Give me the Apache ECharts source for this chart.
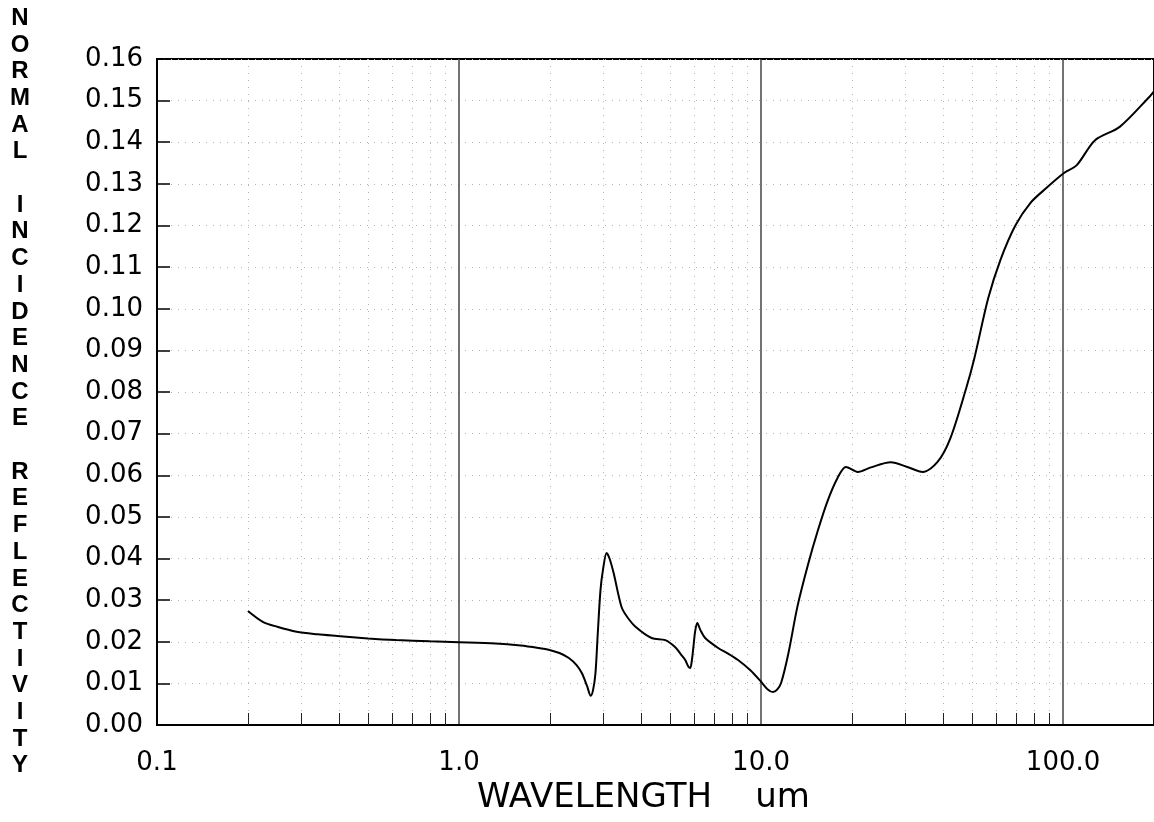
<!DOCTYPE html>
<html>
<head>
<meta charset="utf-8">
<title>Normal incidence reflectivity</title>
<script src="https://cdn.jsdelivr.net/npm/echarts@6/dist/echarts.min.js"></script>
<style>
  html, body { margin: 0; padding: 0; background: #fff; }
  #chart { width: 1154px; height: 822px; }
</style>
</head>
<body>
<div id="chart"></div>
<script>
// wavelength in um
const wavelength = [
  0.2, 0.224, 0.25, 0.29, 0.34, 0.395, 0.5, 0.62, 0.8, 1.0,
  1.32, 1.6, 1.84, 1.98, 2.15, 2.31, 2.45, 2.55, 2.65, 2.73,
  2.78, 2.83, 2.88, 2.94, 3.0, 3.08, 3.15, 3.25, 3.45, 3.6,
  3.84, 4.34, 4.82, 5.2, 5.45, 5.61, 5.75, 5.83, 5.9, 5.97,
  6.05, 6.15, 6.3, 6.53, 7.21, 7.8, 8.39, 9.2, 10.0, 10.5,
  10.96, 11.3, 11.65, 12.3, 13.2, 14.3, 15.4, 16.6, 17.9, 19.1,
  20.9, 23.1, 26.9, 30.5, 34.3, 38.4, 42.4, 47.9, 50.8, 56.5,
  62, 69.5, 77.9, 88, 100.7, 111, 127.6, 154, 193.6, 200
]
const reflectivity = [
  0.0274, 0.0248, 0.0236, 0.0224, 0.0218, 0.0214, 0.0208, 0.0204, 0.0201, 0.0199,
  0.0196, 0.0191, 0.0185, 0.0181, 0.0173, 0.0161, 0.0144, 0.0125, 0.0095, 0.0070,
  0.0085, 0.0125, 0.0220, 0.0324, 0.0375, 0.0413, 0.0400, 0.0365, 0.0284, 0.0260,
  0.0236, 0.0209, 0.0204, 0.0187, 0.0168, 0.0156, 0.0140, 0.0137, 0.0155, 0.0187,
  0.0225, 0.0245, 0.0228, 0.0209, 0.0185, 0.0171, 0.0156, 0.0132, 0.0104, 0.0086,
  0.0079, 0.0085, 0.0101, 0.0170, 0.0285, 0.0385, 0.0466, 0.0538, 0.0593, 0.0620,
  0.0608, 0.0619, 0.0631, 0.0620, 0.0608, 0.0632, 0.0690, 0.0812, 0.0880, 0.1025,
  0.1117, 0.1200, 0.1254, 0.1290, 0.1326, 0.1345, 0.1405, 0.1437, 0.1510, 0.1522
]
const labelTicks = [0.1, 1, 10, 100]
const decadeLines = [1, 10, 100]
const minorTicks = [
  0.2, 0.3, 0.4, 0.5, 0.6, 0.7, 0.8, 0.9,
  2, 3, 4, 5, 6, 7, 8, 9,
  20, 30, 40, 50, 60, 70, 80, 90
]
const yTitle = 'NORMAL INCIDENCE REFLECTIVITY'
const xTitle = 'WAVELENGTH    um'

const numFont = 'DejaVu Sans'
const letterFont = 'Liberation Sans'
const chart = echarts.init(document.getElementById('chart'))

const option = {
  animation: false,
  backgroundColor: '#fff',
  grid: {
    left: 157,
    top: 59,
    width: 1000,
    bottom: 97,
    show: true,
    borderColor: '#000',
    borderWidth: 2,
    backgroundColor: 'transparent'
  },
  graphic: [
    {
      type: 'text',
      x: 20,
      y: 392,
      style: {
        text: yTitle.split('').join('\n'),
        fontFamily: letterFont,
        fontWeight: 'bold',
        fontSize: 24,
        lineHeight: 26.7,
        fill: '#000',
        align: 'center',
        verticalAlign: 'middle'
      }
    }
  ],
  xAxis: [
    {
      type: 'log',
      logBase: 10,
      min: 0.1,
      max: 200,
      position: 'bottom',
      name: xTitle,
      nameLocation: 'middle',
      nameGap: 56,
      nameTextStyle: {
        color: '#000',
        fontFamily: numFont,
        fontSize: 34,
        padding: [0, 24, 0, 0]
      },
      axisLine: { show: true, lineStyle: { color: '#000', width: 2 } },
      axisTick: { show: false, customValues: decadeLines },
      axisLabel: {
        customValues: labelTicks,
        margin: 25,
        color: '#000',
        fontFamily: numFont,
        fontSize: 26,
        formatter: (v) => Number(v).toFixed(1)
      },
      splitLine: { show: true, lineStyle: { color: '#444', width: 1.5 } }
    },
    {
      type: 'log',
      logBase: 10,
      min: 0.1,
      max: 200,
      position: 'bottom',
      axisLine: { show: false },
      axisLabel: { show: false },
      axisTick: {
        show: true,
        inside: true,
        length: 12,
        customValues: minorTicks,
        lineStyle: { color: '#222', width: 1 }
      },
      splitLine: {
        show: true,
        lineStyle: { color: '#b4b4b4', width: 1, type: [1, 6] }
      }
    }
  ],
  yAxis: {
    type: 'value',
    min: 0,
    max: 0.16,
    interval: 0.01,
    axisLine: { show: true, lineStyle: { color: '#000', width: 2 } },
    axisTick: { show: true, inside: true, length: 13, lineStyle: { color: '#000', width: 1.5 } },
    axisLabel: {
      margin: 14,
      color: '#000',
      fontFamily: numFont,
      fontSize: 26,
      formatter: (v) => v.toFixed(2)
    },
    splitLine: { show: true, lineStyle: { color: '#b4b4b4', width: 1, type: [1, 6] } }
  },
  series: [
    {
      type: 'line',
      xAxisIndex: 0,
      data: wavelength.map((w, i) => [w, reflectivity[i]]),
      showSymbol: false,
      smooth: 0.3,
      lineStyle: { color: '#000', width: 2 }
    }
  ]
}

chart.setOption(option)
</script>
</body>
</html>
